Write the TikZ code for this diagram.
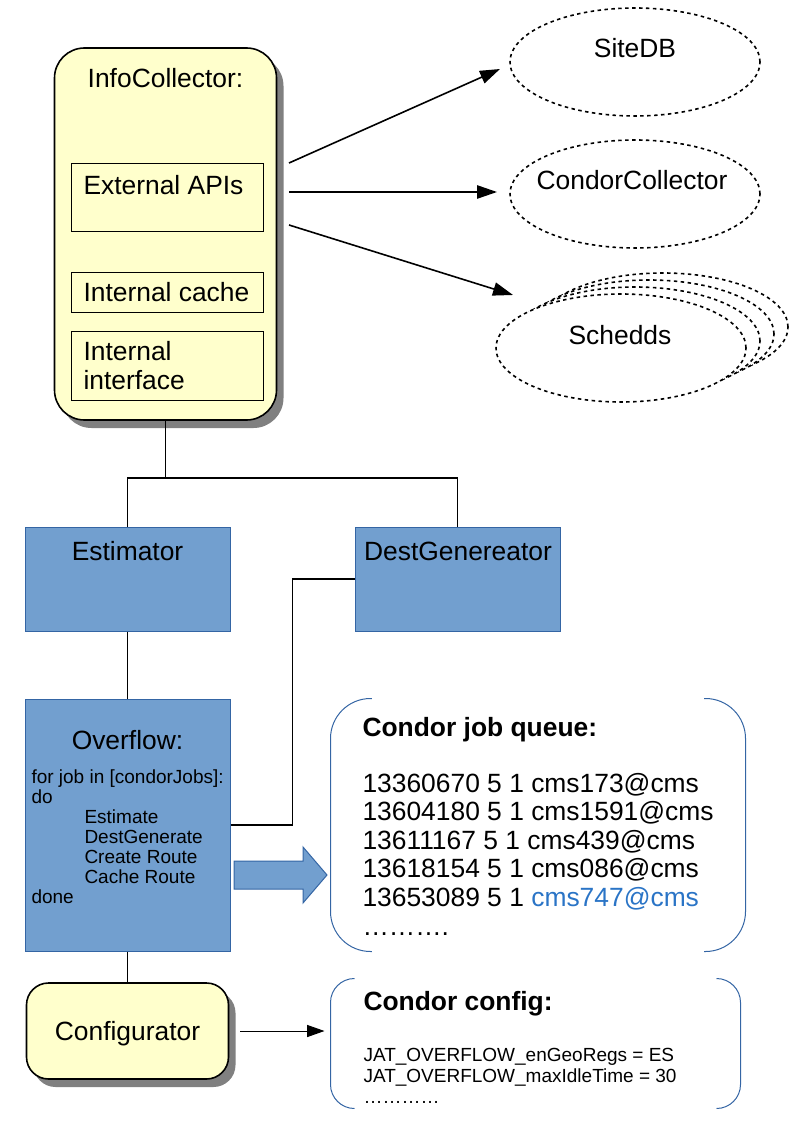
\documentclass[tikz,border=0pt]{standalone}
\usepackage{fontspec}
\setmainfont{Liberation Sans}
\usetikzlibrary{arrows.meta,shadows,shapes.geometric}

\definecolor{boxyellow}{RGB}{255,255,204}
\definecolor{boxblue}{RGB}{114,159,207}
\definecolor{edgeblue}{RGB}{52,101,164}
\definecolor{linkblue}{RGB}{42,116,198}
\definecolor{shadowgrey}{RGB}{128,128,128}

\newcommand\bigtxt{\fontsize{19.8}{21.4}\selectfont}
\newcommand\codetxt{\fontsize{14.25}{15}\selectfont}

\tikzset{every picture/.style={line width=0.75pt}}
\tikzset{
  yellowbox/.style={draw, line width=1.2pt, fill=boxyellow, inner sep=0pt,
    drop shadow={shadow xshift=5.25pt, shadow yshift=-6pt, fill=shadowgrey, opacity=1}},
  innerbox/.style={draw, line width=0.75pt, inner sep=0pt},
  bluebox/.style={draw=edgeblue, line width=0.75pt, fill=boxblue, inner sep=0pt},
  service/.style={ellipse, draw, line width=1.2pt, dash pattern=on 2.6pt off 2.6pt, fill=white, inner sep=0pt,
    minimum width=187.5pt, minimum height=81pt},
  bracketbox/.style={draw=none, inner sep=0pt},
  bracket/.style={draw=edgeblue, line width=0.75pt},
  wire/.style={line width=1.2pt},
  feed/.style={wire, -{Triangle[length=15pt,width=10pt]}},
  bigtext/.style={font=\bigtxt, inner sep=0pt},
  codetext/.style={font=\codetxt, inner sep=0pt, align=left}
}

\begin{document}
\begin{tikzpicture}[x=0.75pt,y=0.75pt,yscale=-1,xscale=1]
	\useasboundingbox (0,0) rectangle (794,1123);

	%Shape: Rounded Rect
	\node[yellowbox, rounded corners=22.5pt, minimum width=166.5pt, minimum height=279pt] (info) at (165.5,234) {};
	%Shape: Rectangle
	\node[innerbox, minimum width=144pt, minimum height=51pt] (extapi) at (167,198) {};
	%Shape: Rectangle
	\node[innerbox, minimum width=144pt, minimum height=30pt] (cache) at (167,292) {};
	%Shape: Rectangle
	\node[innerbox, minimum width=144pt, minimum height=51.75pt] (iface) at (167,365.5) {};

	%Shape: Ellipse
	\node[service] (sitedb) at (635,62) {};
	%Shape: Ellipse
	\node[service] (collector) at (635,194) {};
	%Shape: Ellipse (stacked)
	\foreach \k in {3,2,1}
		\node[service] (schedd\k) at ({621+14*\k},{348-7*\k}) {};
	\node[service] (schedds) at (621,348) {};

	%Straight Lines
	\coordinate (out1) at (289,163);
	\coordinate (in1) at (500,69);
	\coordinate (out2) at (289,192);
	\coordinate (in2) at (497,192);
	\coordinate (out3) at (289,225);
	\coordinate (in3) at (513,295);
	\draw[feed] (out1) -- (in1);
	\draw[feed] (out2) -- (in2);
	\draw[feed] (out3) -- (in3);

	%Shape: Rectangle
	\node[bluebox, minimum width=153.75pt, minimum height=78pt] (estimator) at (127.5,579) {};
	%Shape: Rectangle
	\node[bluebox, minimum width=153.75pt, minimum height=78pt] (destgen) at (457.5,579) {};
	%Shape: Rectangle
	\node[bluebox, minimum width=153.75pt, minimum height=189pt] (overflow) at (127.5,825) {};
	%Shape: Rounded Rect
	\node[yellowbox, rounded corners=16.5pt, minimum width=151.5pt, minimum height=72pt] (configurator) at (127.5,1031) {};

	%Connector lines
	\coordinate (split) at (165.5,478);
	\draw[wire] (info.south) -- (split);
	\draw[wire] (estimator.north) |- (split) -| (destgen.north);
	\draw[wire] (estimator.south) -- (overflow.north);
	\draw[wire] (destgen.west) -- ++(-62,0) |- (overflow.east);
	\draw[wire] (overflow.south) -- (configurator.north);

	%Shape: Right Arrow
	\draw[draw=edgeblue, fill=boxblue] (234,861) -- (303,861) -- (303,847) -- (327,875) -- (303,903) -- (303,889) -- (234,889) -- cycle;

	%Shape: Bracket Pair
	\node[bracketbox, minimum width=310.5pt, minimum height=189pt] (queue) at (538,825) {};
	\draw[bracket, rounded corners=30pt] ([xshift=31pt]queue.north west) -- (queue.north west) -- (queue.south west) -- ([xshift=31pt]queue.south west);
	\draw[bracket, rounded corners=30pt] ([xshift=-31pt]queue.north east) -- (queue.north east) -- (queue.south east) -- ([xshift=-31pt]queue.south east);
	%Shape: Bracket Pair
	\node[bracketbox, minimum width=306.75pt, minimum height=96.75pt] (config) at (535.5,1043.5) {};
	\draw[bracket, rounded corners=18pt] ([xshift=18pt]config.north west) -- (config.north west) -- (config.south west) -- ([xshift=18pt]config.south west);
	\draw[bracket, rounded corners=18pt] ([xshift=-18pt]config.north east) -- (config.north east) -- (config.south east) -- ([xshift=-18pt]config.south east);

	%Straight Lines
	\draw[wire, line width=0.75pt, -{Triangle[length=13pt,width=9pt]}, shorten <=8.25pt, shorten >=4.5pt] (configurator.east) -- (configurator.east -| config.west);

	% Text Node
	\node[bigtext, anchor=base] (infotitle) at (165.5,87.5) {InfoCollector:};
	% Text Node
	\node[bigtext, anchor=base west] (extapitext) at (83,194.5) {External APIs};
	% Text Node
	\node[bigtext, anchor=base west] (cachetext) at (83,301.5) {Internal cache};
	% Text Node
	\node[bigtext, anchor=base west, align=left] (ifacetext) at (83,389.5) {Internal\\interface};
	% Text Node
	\node[bigtext, anchor=base] (sitedbtext) at (635,57.5) {SiteDB};
	% Text Node
	\node[bigtext, anchor=base] (collectortext) at (632,189.5) {CondorCollector};
	% Text Node
	\node[bigtext, anchor=base] (scheddstext) at (620,344.5) {Schedds};
	% Text Node
	\node[bigtext, anchor=base] (estimatortext) at (127.5,560.5) {Estimator};
	% Text Node
	\node[bigtext, anchor=base] (destgentext) at (458,560.5) {DestGenereator};
	% Text Node
	\node[bigtext, anchor=base] (overflowtext) at (127.5,749.5) {Overflow:};
	% Text Node
	\node[codetext, anchor=base west] (looptext) at (31,903) {for job in [condorJobs]:\\do\\\hspace*{39.75pt}Estimate\\\hspace*{39.75pt}DestGenerate\\\hspace*{39.75pt}Create Route\\\hspace*{39.75pt}Cache Route\\done};
	% Text Node
	\node[bigtext, anchor=base] (configuratortext) at (127.5,1040.5) {Configurator};
	% Text Node
	\node[bigtext, anchor=base west, font=\bigtxt\bfseries] (queuetitle) at (362,736.5) {Condor job queue:};
	% Text Node
	\node[bigtext, anchor=base west, align=left] (queuetext) at (362,935) {13360670 5 1 cms173@cms\\13604180 5 1 cms1591@cms\\13611167 5 1 cms439@cms\\13618154 5 1 cms086@cms\\13653089 5 1 \textcolor{linkblue}{cms747@cms}\\……….};
	% Text Node
	\node[bigtext, anchor=base west, font=\bigtxt\bfseries] (configtitle) at (363,1010.5) {Condor config:};
	% Text Node
	\node[codetext, anchor=base west, font=\fontsize{14.25}{15.75}\selectfont] (configtext) at (363,1103) {JAT\_OVERFLOW\_enGeoRegs = ES\\JAT\_OVERFLOW\_maxIdleTime = 30\\…………};

\end{tikzpicture}
\end{document}
